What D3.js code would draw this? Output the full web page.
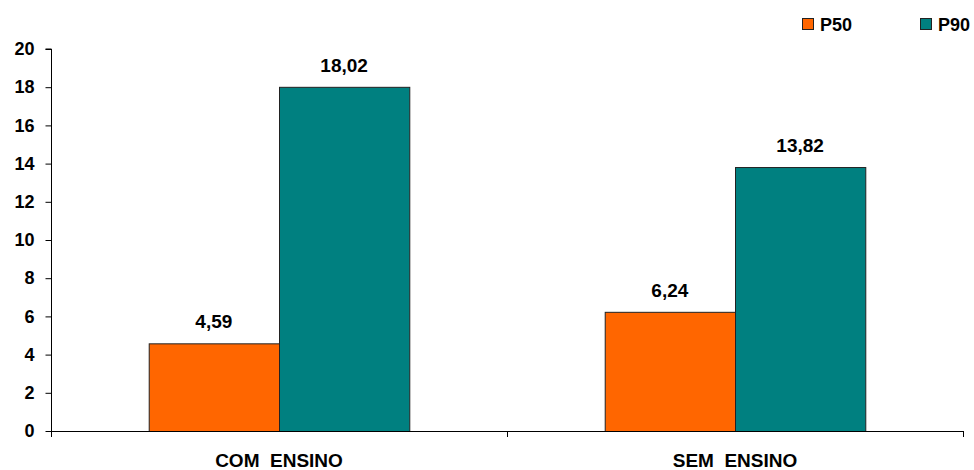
<!DOCTYPE html>
<html><head><meta charset="utf-8">
<script src="https://cdn.jsdelivr.net/npm/d3@7"></script>
<style>body{margin:0;background:#fff}svg{display:block}text{font-family:"Liberation Sans",Arial,sans-serif;font-weight:bold;fill:#000}</style>
</head><body><svg id="c" width="974" height="470"></svg>
<script>
const categories = ["COM  ENSINO", "SEM  ENSINO"];
const series = ["P50", "P90"];
const p50 = [4.59, 6.24];
const p90 = [18.02, 13.82];
const yTicks = [0, 2, 4, 6, 8, 10, 12, 14, 16, 18, 20];
const colors = ["#FF6600", "#008080"];

(function () {
const svg = d3.select("#c");
const mLeft = 51, mRight = 963, mTop = 49, mBottom = 431;
const x = d3.scaleBand().domain(categories).range([mLeft, mRight]);
const xs = d3.scaleBand().domain(series).range([0, x.bandwidth()]).paddingOuter(0.75).paddingInner(0);
const y = d3.scaleLinear().domain([0, 20]).range([mBottom, mTop]);
const FF = "'Liberation Sans',Arial,sans-serif";

// y axis
const ya = svg.append("g").attr("transform", `translate(${mLeft + 0.5},0)`)
  .call(d3.axisLeft(y).tickValues(yTicks).tickSize(6).tickPadding(11).tickFormat(d3.format("d")));
ya.select(".domain").attr("d", `M-6,${mTop}H0V${mBottom + 6}`).attr("stroke", "#000");
ya.selectAll(".tick line").attr("stroke", "#000");
ya.selectAll(".tick text").style("font-size", "18px").style("font-family", FF).style("font-weight", "bold");

const data = categories.map((c, i) => ({ c, vals: [p50[i], p90[i]] }));
const g = svg.append("g");
data.forEach(d => {
  d.vals.forEach((v, j) => {
    const bx = x(d.c) + xs(series[j]);
    g.append("rect").attr("x", bx + 0.5).attr("y", y(v) + 0.5)
      .attr("width", xs.bandwidth()).attr("height", y(0) - y(v))
      .attr("fill", colors[j]).attr("stroke", "#222").attr("stroke-width", 1);
    g.append("text").attr("x", bx + xs.bandwidth() / 2).attr("y", y(v) - 15)
      .attr("text-anchor", "middle").style("font-size", "19px")
      .text(d3.format(".2f")(v).replace(".", ","));
  });
});

// x axis
const xa = svg.append("g").attr("transform", `translate(0,${mBottom})`)
  .call(d3.axisBottom(x).tickSize(0).tickPadding(0));
xa.select(".domain").attr("d", `M${mLeft},0.5H${mRight}`).attr("stroke", "#000");
xa.selectAll(".tick text").attr("dy", null).attr("y", 36)
  .style("font-size", "19px").style("font-family", FF).style("font-weight", "bold").style("white-space", "pre");
[mLeft, (mLeft + mRight) / 2, mRight].forEach(px => {
  svg.append("line").attr("x1", px + 0.5).attr("x2", px + 0.5).attr("y1", mBottom).attr("y2", mBottom + 6).attr("stroke", "#000");
});

// legend
const lg = svg.append("g");
const legX = [802, 920];
series.forEach((s, i) => {
  lg.append("rect").attr("x", legX[i] + 0.5).attr("y", 18.5).attr("width", 11).attr("height", 11)
    .attr("fill", colors[i]).attr("stroke", "#222");
  lg.append("text").attr("x", legX[i] + 18).attr("y", 31).style("font-size", "18px").text(s);
});
})();
</script></body></html>
